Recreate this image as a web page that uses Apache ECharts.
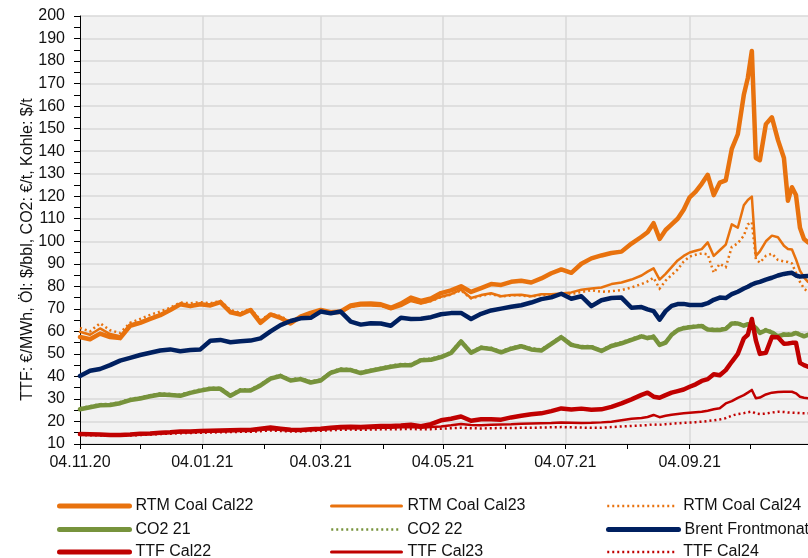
<!DOCTYPE html>
<html>
<head>
<meta charset="utf-8">
<script src="https://cdn.jsdelivr.net/npm/echarts@6/dist/echarts.min.js"></script>
<style>
html,body{margin:0;padding:0;background:#fff;}
#chart{width:808px;height:558px;}
</style>
</head>
<body>
<div id="chart"></div>
<script>
// x positions: days since 04.11.2020
const days = [0,5,10,15,20,25,30,35,40,45,50,55,60,65,70,75,80,85,90,95,100,105,110,115,120,125,130,135,140,145,150,155,160,165,170,175,180,185,190,195,200,205,210,215,220,225,230,235,240,245,250,255,260,265,270,275,280,
  283,286,289,292,295,298,301,304,307,310,313,316,319,322,325,328,331,333,335,337,339,342,345,348,351,353,355,357,359,361,363];

const tickDays = [0, 61, 120, 181, 242, 304];
const tickLabels = ['04.11.20', '04.01.21', '04.03.21', '04.05.21', '04.07.21', '04.09.21'];
const monthTickDays = [0, 30, 61, 92, 120, 151, 181, 212, 242, 273, 304, 334];

const rtmCoalCal22 = [57.5,56.5,59,57.5,57,62.5,63.8,65.5,67.2,69.5,72,71.2,72,71.5,73,68.5,67.5,69.5,63.8,67.5,66,63.5,66.5,68.2,69.5,68.5,68.8,71.5,72.3,72.4,72,70.5,72.3,75,73.5,74.6,77,78.2,80,77.5,79.2,81,80.6,82,82.5,81.7,83.5,85.8,87.5,86,90,92.4,93.7,94.8,95.4,99,102,
  104,108,101,105,107.5,110,114,119.5,122,125.5,129.5,120.5,126,127,141,147.5,165,172.5,184.5,137,136,152,155,145,137,118,124,120.5,106,101,99.5];
const rtmCoalCal23 = [59.8,58.5,61.3,58.8,57.8,63,64.2,66,67.5,69.5,72,71.5,72.3,71.8,73,69,67.8,69.8,64.5,67.2,66.2,63.8,66.2,67.8,69,68,68.2,70.8,71.5,71.5,71.3,69.8,71.2,73.5,72.3,73.5,75.4,76.5,78.5,74.8,76.1,76.9,75.6,76.2,76.3,75.6,76.5,76.5,76.8,77.3,78.5,79,79.5,81,81.7,83,84.8,
  86.5,88,83,85.5,88.5,91.5,93.5,95,95.8,96.5,99.5,93.5,96,98.5,107.5,106,116,118.3,119.8,93.5,95.5,100,102.5,101.8,98,96.6,96.3,92,87,84,82];
const rtmCoalCal24 = [61.5,60,63.6,60.5,59.3,63.8,65.5,67.3,68.8,70.5,72.8,72.5,73,72.5,73.5,69.5,68.2,70.2,65,67.8,66.8,64.3,66.8,68.2,69.3,68.3,68.5,71,71.8,71.8,71.5,70,71.5,73.8,72.5,73.5,75.2,76.3,78.2,74.6,75.8,76.6,75.4,76,76,75.4,76.2,76.2,76.3,76.6,77.5,78.2,77.6,77.8,78.3,79.5,81,
  82.2,83.8,79,82.5,85,87.5,91,93.2,94,94.6,94.2,86,90,88.5,97.5,99.1,102.5,107.5,108.5,92,90.5,93.5,94.5,91.7,91,90.8,90.1,86,82,79,77.6];
const co2_21 = [25.4,26.3,27.2,27.3,28.1,29.5,30.2,31.2,32,31.7,31.4,32.7,33.7,34.5,34.5,31.4,33.8,33.7,36,39,40.2,38.2,38.8,37.3,38.2,41.6,43,42.8,41.5,42.5,43.4,44.3,45,45,47.2,47.4,48.6,50.4,55.5,50.5,52.7,52.2,50.7,52.3,53.4,52,51.5,54.4,57.4,54,53,53,51.3,53.5,54.7,56.2,57.8,
  57,57.6,54,55,58.5,60.5,61.4,61.8,62.1,62.4,60.8,60.6,60.6,61.1,63.5,63.5,62.5,63.2,62.9,61.5,59.3,60.5,59.5,57.8,58.6,58.5,58.6,59.3,58.5,57.8,58.4];
const co2_22 = [25.9,26.8,27.7,27.8,28.6,30,30.7,31.7,32.5,32.2,31.9,33.2,34.2,35,35,31.9,34.3,34.2,36.5,39.5,40.7,38.7,39.3,37.8,38.7,42.1,43.5,43.3,42,43,43.9,44.8,45.5,45.5,47.7,47.9,49.1,50.9,56,51,53.2,52.7,51.2,52.8,53.9,52.5,52,54.9,57.9,54.5,53.5,53.5,51.8,54,55.2,56.7,58.3,
  57.5,58.1,54.5,55.5,59,61,61.9,62.3,62.6,62.9,61.3,61.1,61.1,61.6,64,64,63,63.7,63.4,62,59.8,61,60,58.3,59.1,59,59.1,59.8,59,58.3,58.9];
const brentFrontmonat = [40.2,42.5,43.3,45,47,48.2,49.5,50.5,51.5,52,51.2,51.7,52,55.8,56.2,55.2,55.6,55.9,56.9,60,62.8,64.6,65.8,66,68.8,68,68.8,64.3,63,63.6,63.5,62.5,66,65.5,65.6,66.3,67.6,68.1,68.2,65.5,67.8,69.3,70.1,70.9,71.6,72.8,74.3,75.1,76.7,74.5,75.6,71.2,73.8,74.8,75,70.5,70.8,
  69.8,69,65.2,69,71.3,72.1,72.2,71.7,71.7,71.7,72.5,74,75,74.8,76.5,77.6,79,79.8,80.8,81.5,82,83,83.8,84.8,85.5,85.8,86,84.8,84.3,84.5,84.6];
const ttfCal22 = [14.4,14.3,14.2,14,14,14.2,14.5,14.7,15,15.2,15.5,15.6,15.8,15.9,16,16.1,16.2,16.2,16.8,17.3,16.8,16.3,16.2,16.5,16.8,17.2,17.6,17.7,17.6,17.8,18,18,18.2,18.6,17.9,18.8,20.5,21.2,22.2,20.3,21,21,20.8,21.8,22.5,23.2,23.6,24.6,25.8,25.3,25.7,25.2,25.4,26.5,28,29.8,31.8,
  32.8,31,30.5,31.7,32.8,33.5,34.2,35.4,36.5,38,38.8,41,40.5,42.8,46.5,50,56.9,58.5,65.5,56,50,50.5,57.5,57.4,54.5,54.6,54.9,55,46,45,44.3];
const ttfCal23 = [14.3,14.2,14.1,13.9,13.9,14.1,14.3,14.5,14.8,15,15.2,15.3,15.5,15.6,15.7,15.8,15.9,15.9,16.3,16.6,16.3,16,16,16.2,16.4,16.7,17,17.1,17,17.1,17.2,17.2,17.4,17.6,17.2,17.5,17.8,18.3,18.9,18.4,18.3,18.5,18.7,18.8,19,19.1,19.2,19.3,19.5,19.4,19.3,19.4,19.6,19.9,20.5,21.2,21.5,
  22,22.9,21.9,22.5,23,23.3,23.6,23.9,24.1,24.3,24.8,25.4,25.9,28,29,30.5,31.7,32.8,34,30.3,30.6,32,32.8,33.1,33.2,33.2,33.2,32.5,31,30.5,30.3];
const ttfCal24 = [14,13.9,13.8,13.7,13.7,13.8,14,14.2,14.4,14.6,14.8,14.9,15,15.1,15.2,15.3,15.4,15.4,15.7,16,15.8,15.6,15.6,15.8,15.9,16.1,16.3,16.4,16.3,16.4,16.5,16.5,16.6,16.7,16.5,16.6,16.8,17,17.2,17,16.9,17,17.1,17.1,17.2,17.2,17.3,17.4,17.5,17.4,17.3,17.2,17.2,17.5,17.8,18,18.2,
  18.4,18.7,18.5,18.8,19,19.2,19.4,19.5,19.7,19.9,20.2,20.5,20.9,21.5,22.6,23.3,23.7,24.1,24.4,23.5,23.3,23.5,24,24.3,24.2,24,23.9,23.8,23.7,23.6,23.6];

// legend layout: rows of names (3 columns)
const legendRows = [
  ['RTM Coal Cal22', 'RTM Coal Cal23', 'RTM Coal Cal24'],
  ['CO2 21', 'CO2 22', 'Brent Frontmonat'],
  ['TTF Cal22', 'TTF Cal23', 'TTF Cal24']
];

const ORANGE = '#E8720E', GREEN = '#77933C', NAVY = '#002060', RED = '#C00000';
const FONT = "'Liberation Sans', Arial, sans-serif";
const THICK = 4.5, THIN = 2.5, DOT = 2.5;
const DOTTED = [2, 3];

function mk(name, vals, color, width, dotted) {
  return {
    name: name, type: 'line', xAxisIndex: 0, yAxisIndex: 0,
    data: days.map((d, i) => [d, vals[i]]),
    symbol: 'none', smooth: false,
    lineStyle: dotted
      ? { color: color, width: width, type: DOTTED, cap: 'butt', join: 'miter' }
      : { color: color, width: width, type: 'solid', cap: 'round', join: 'round' },
    itemStyle: { color: color },
    emphasis: { disabled: true }
  };
}

const series = [
  mk('RTM Coal Cal22', rtmCoalCal22, ORANGE, THICK),
  mk('RTM Coal Cal23', rtmCoalCal23, ORANGE, THIN),
  mk('RTM Coal Cal24', rtmCoalCal24, ORANGE, DOT, true),
  mk('CO2 21', co2_21, GREEN, THICK),
  mk('CO2 22', co2_22, GREEN, DOT, true),
  mk('Brent Frontmonat', brentFrontmonat, NAVY, THICK),
  mk('TTF Cal22', ttfCal22, RED, THICK),
  mk('TTF Cal23', ttfCal23, RED, THIN),
  mk('TTF Cal24', ttfCal24, RED, DOT, true)
];
const seriesByName = {};
series.forEach(s => { seriesByName[s.name] = s; });

const colLefts = [57, 330, 606];
const rowTops = [498, 521.5, 544];
const legends = [];
legendRows.forEach((row, r) => row.forEach((name, c) => {
  const ls = seriesByName[name].lineStyle;
  const w = ls.width === THICK ? 5 : (ls.type === 'solid' ? 3 : 2.5);
  legends.push({
    show: true, orient: 'horizontal', left: colLefts[c], top: rowTops[r],
    data: [name], selectedMode: false,
    itemWidth: 70, itemHeight: 16, itemGap: 0, padding: 0,
    itemStyle: { opacity: 0 },
    lineStyle: { width: w, cap: ls.type === 'solid' ? 'round' : 'butt' },
    textStyle: { fontFamily: FONT, fontSize: 16, color: '#111', padding: [0, 0, 0, 1] }
  });
}));

const chart = echarts.init(document.getElementById('chart'), null, { renderer: 'canvas' });
chart.setOption({
  animation: false,
  backgroundColor: '#fff',
  grid: { left: 80, right: 0, top: 16, bottom: 114, show: true, backgroundColor: '#f2f2f2', borderWidth: 0 },
  legend: legends,
  xAxis: [
    {
      type: 'value', min: 0, max: 363, position: 'bottom',
      axisLine: { show: true, onZero: false, lineStyle: { color: '#000', width: 1 } },
      axisTick: { show: true, customValues: monthTickDays, length: 5, lineStyle: { color: '#000' } },
      axisLabel: {
        show: true, customValues: tickDays, margin: 11,
        fontFamily: FONT, fontSize: 16, color: '#111',
        formatter: function (v) { const i = tickDays.indexOf(Math.round(v)); return i >= 0 ? tickLabels[i] : ''; }
      },
      splitLine: { show: false }
    },
    {
      type: 'value', min: 0, max: 363, position: 'bottom',
      axisLine: { show: false },
      axisTick: { show: false, customValues: tickDays.slice(1) },
      axisLabel: { show: false, customValues: tickDays.slice(1) },
      splitLine: { show: true, lineStyle: { color: '#d9d9d9', width: 1.5 } }
    }
  ],
  yAxis: {
    type: 'value', min: 10, max: 200, interval: 10,
    name: 'TTF: €/MWh, Öl: $/bbl, CO2: €/t, Kohle: $/t',
    nameLocation: 'middle', nameGap: 44, nameMoveOverlap: false,
    nameTextStyle: { fontFamily: FONT, fontSize: 16, color: '#111', padding: [0, 39, 0, 0] },
    axisLine: { show: true, lineStyle: { color: '#000', width: 1 } },
    axisTick: { show: true, length: 6, lineStyle: { color: '#000' } },
    minorTick: { show: true, splitNumber: 2, length: 6, lineStyle: { color: '#000' } },
    axisLabel: { margin: 15, fontFamily: FONT, fontSize: 16, color: '#111' },
    splitLine: { show: true, lineStyle: { color: '#d9d9d9', width: 1.5 } }
  },
  series: series
});
</script>
</body>
</html>
